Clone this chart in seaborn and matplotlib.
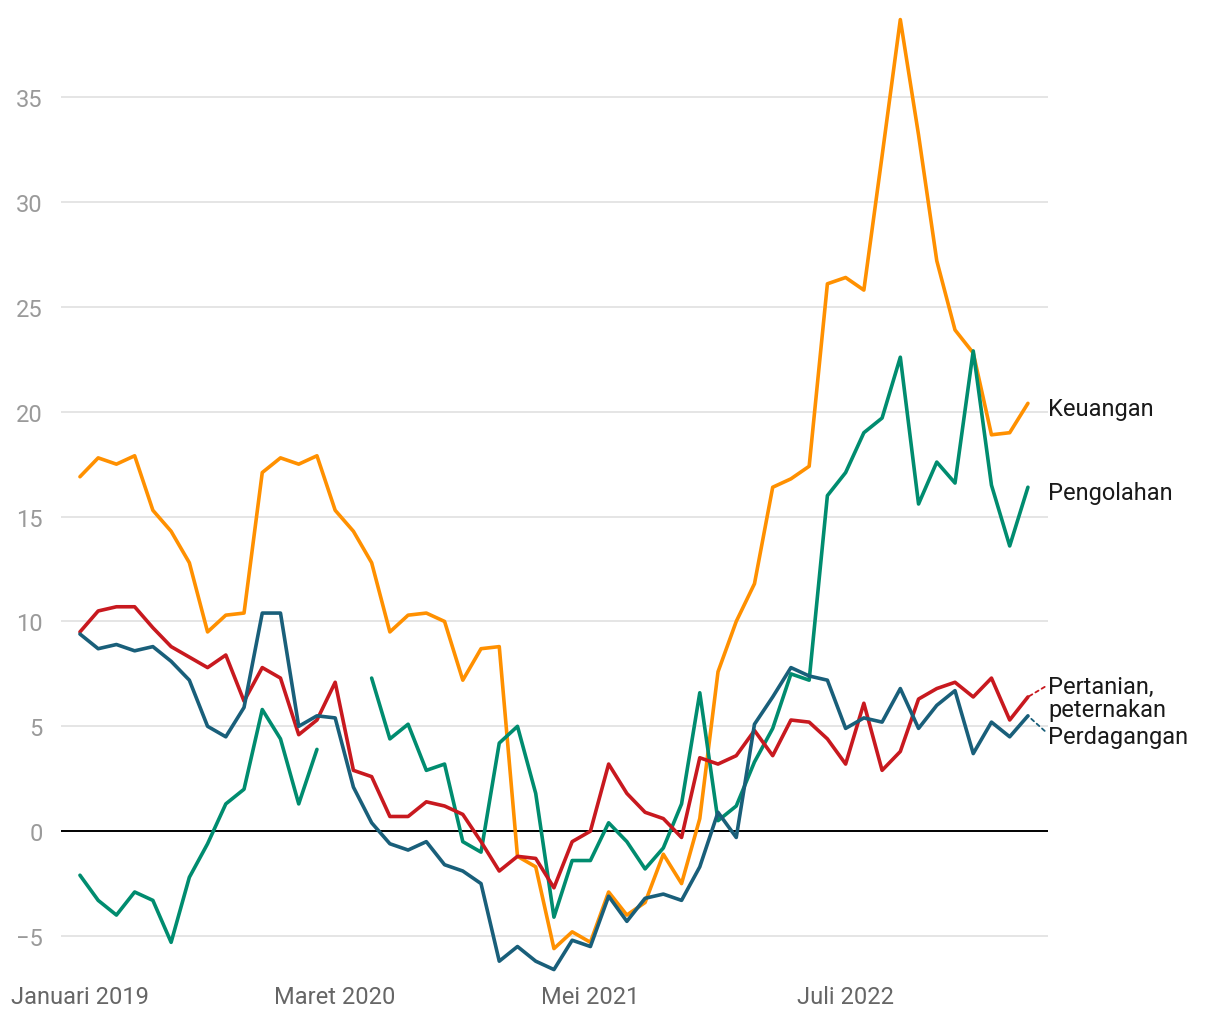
import numpy as np
import pandas as pd
import matplotlib
matplotlib.use('Agg')
import matplotlib.pyplot as plt
import seaborn as sns

sns.set_theme(style='white')
plt.rcParams['font.family'] = ['Roboto', 'DejaVu Sans']

# Data bulanan, Januari 2019 - Mei 2023
bulan = pd.date_range('2019-01-01', periods=53, freq='MS')

keuangan = [16.9, 17.8, 17.5, 17.9, 15.3, 14.3, 12.8, 9.5, 10.3, 10.4,
            17.1, 17.8, 17.5, 17.9, 15.3, 14.3, 12.8, 9.5, 10.3, 10.4,
            10.0, 7.2, 8.7, 8.8, -1.2, -1.7, -5.6, -4.8, -5.3, -2.9,
            -4.0, -3.4, -1.1, -2.5, 0.6, 7.6, 10.0, 11.8, 16.4, 16.8,
            17.4, 26.1, 26.4, 25.8, 32.2, 38.7, 33.2, 27.2, 23.9, 22.8,
            18.9, 19.0, 20.4]

pengolahan = [-2.1, -3.3, -4.0, -2.9, -3.3, -5.3, -2.2, -0.6, 1.3, 2.0,
              5.8, 4.4, 1.3, 3.9, np.nan, np.nan, 7.3, 4.4, 5.1, 2.9,
              3.2, -0.5, -1.0, 4.2, 5.0, 1.8, -4.1, -1.4, -1.4, 0.4,
              -0.5, -1.8, -0.8, 1.3, 6.6, 0.5, 1.2, 3.3, 4.9, 7.5,
              7.2, 16.0, 17.1, 19.0, 19.7, 22.6, 15.6, 17.6, 16.6, 22.9,
              16.5, 13.6, 16.4]

pertanian = [9.5, 10.5, 10.7, 10.7, 9.7, 8.8, 8.3, 7.8, 8.4, 6.2,
             7.8, 7.3, 4.6, 5.3, 7.1, 2.9, 2.6, 0.7, 0.7, 1.4,
             1.2, 0.8, -0.5, -1.9, -1.2, -1.3, -2.7, -0.5, 0.0, 3.2,
             1.8, 0.9, 0.6, -0.3, 3.5, 3.2, 3.6, 4.8, 3.6, 5.3,
             5.2, 4.4, 3.2, 6.1, 2.9, 3.8, 6.3, 6.8, 7.1, 6.4,
             7.3, 5.3, 6.4]

perdagangan = [9.4, 8.7, 8.9, 8.6, 8.8, 8.1, 7.2, 5.0, 4.5, 5.9,
               10.4, 10.4, 5.0, 5.5, 5.4, 2.1, 0.4, -0.6, -0.9, -0.5,
               -1.6, -1.9, -2.5, -6.2, -5.5, -6.2, -6.6, -5.2, -5.5, -3.1,
               -4.3, -3.2, -3.0, -3.3, -1.7, 0.9, -0.3, 5.1, 6.4, 7.8,
               7.4, 7.2, 4.9, 5.4, 5.2, 6.8, 4.9, 6.0, 6.7, 3.7,
               5.2, 4.5, 5.5]

label_x = ['Januari 2019', 'Maret 2020', 'Mei 2021', 'Juli 2022']
tick_pos = [0, 14, 28, 42]
y_ticks = [-5, 0, 5, 10, 15, 20, 25, 30, 35]

seri = {
    'Keuangan': (keuangan, '#FF9000'),
    'Pengolahan': (pengolahan, '#008C6F'),
    'Pertanian': (pertanian, '#C8191F'),
    'Perdagangan': (perdagangan, '#195F7A'),
}

fig = plt.figure(figsize=(12.2, 10.2), dpi=100)
ax = fig.add_axes([0.05, 0.0431, 0.809, 0.946])

for nama, (vals, warna) in seri.items():
    d = pd.DataFrame({'idx': np.arange(len(vals)), 'nilai': vals})
    # pisahkan segmen supaya data kosong jadi celah
    d['segmen'] = d['nilai'].isna().cumsum()
    d = d.dropna()
    sns.lineplot(data=d, x='idx', y='nilai', units='segmen', estimator=None,
                 color=warna, linewidth=2.6, ax=ax)

ax.axhline(0, color='black', linewidth=1.4, zorder=1)
ax.set_yticks(y_ticks)
ax.set_yticklabels(['\u22125' if v < 0 else str(v) for v in y_ticks])
ax.grid(axis='y', color='#e3e3e3', linewidth=1.3)
ax.set_axisbelow(True)
ax.set_xticks(tick_pos)
ax.set_xticklabels(label_x)
ax.set_xlim(-1.04, 53.1)
ax.set_ylim(-6.86, 39.15)
ax.set_xlabel('')
ax.set_ylabel('')
for s in ax.spines.values():
    s.set_visible(False)
ax.tick_params(axis='y', length=0, pad=13, labelsize=17, labelcolor='#9a9a9a')
ax.tick_params(axis='x', length=0, pad=7, labelsize=17, labelcolor='#666666')

# Label di ujung garis
last = len(bulan) - 1
kw = dict(fontsize=17, color='#1a1a1a', va='center', ha='left', annotation_clip=False)
ax.annotate('Keuangan', xy=(last, keuangan[-1]), xytext=(53.1, 20.15),
            textcoords='data', **kw)
ax.annotate('Pengolahan', xy=(last, pengolahan[-1]), xytext=(53.1, 16.15),
            textcoords='data', **kw)
ax.annotate('Pertanian,\npeternakan', xy=(last, pertanian[-1]), xytext=(53.1, 6.36),
            textcoords='data', linespacing=1.0,
            arrowprops=dict(arrowstyle='-', color='#C8191F', linestyle=(0, (2, 2)),
                            linewidth=1.3, shrinkA=0, shrinkB=0,
                            relpos=(0, 0.78)),
            **kw)
ax.annotate('Perdagangan', xy=(last, perdagangan[-1]), xytext=(53.1, 4.53),
            textcoords='data',
            arrowprops=dict(arrowstyle='-', color='#195F7A', linestyle=(0, (2, 2)),
                            linewidth=1.3, shrinkA=0, shrinkB=0,
                            relpos=(0, 0.6)),
            **kw)

fig.savefig('out.png', dpi=100)
